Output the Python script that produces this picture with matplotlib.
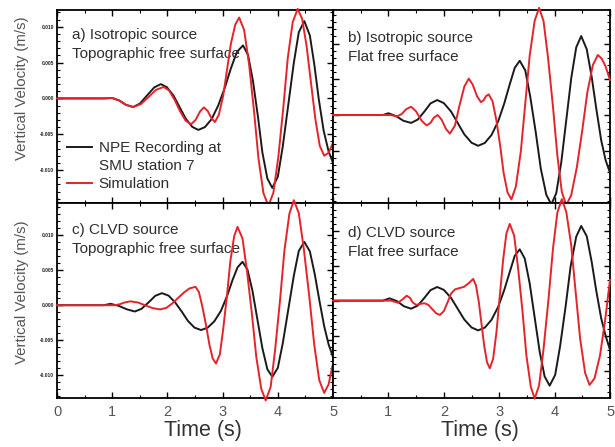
import numpy as np
import matplotlib
matplotlib.use("Agg")
import matplotlib.pyplot as plt
from matplotlib.ticker import MultipleLocator, FormatStrFormatter
from matplotlib.lines import Line2D

plt.rcParams['font.family'] = ['Liberation Sans', 'DejaVu Sans']

# ---- data: time [s], vertical velocity [mm/s] ----
# a) isotropic source, topographic free surface
t_rec_a = [0, 0.85, 1.0, 1.13, 1.25, 1.38, 1.5, 1.63, 1.76, 1.88, 1.99, 2.11, 2.22, 2.33, 2.45, 2.56,
           2.68, 2.8, 2.92, 3.04, 3.15, 3.26, 3.37, 3.46, 3.55, 3.64, 3.72, 3.81, 3.9, 4.0, 4.09,
           4.19, 4.29, 4.38, 4.48, 4.58, 4.66, 4.74, 4.83, 4.92, 5.0]
v_rec_a = [0, 0, 0.06, -0.3, -0.9, -1.2, -0.73, 0.4, 1.53, 2.0, 1.57, 0.4, -1.2, -2.8, -3.97, -4.4,
           -4.0, -2.9, -1.0, 1.5, 4.2, 6.5, 7.4, 6.07, 2.43, -2.55, -7.53, -11.17, -12.5, -10.94, -6.68,
           -0.85, 4.98, 9.24, 10.8, 8.8, 4.8, 0.0, -4.5, -7.4, -9.0]
t_sim_a = [0, 0.85, 1.0, 1.13, 1.25, 1.38, 1.52, 1.66, 1.79, 1.93, 2.03, 2.13, 2.23, 2.33, 2.43, 2.51,
           2.59, 2.66, 2.73, 2.8, 2.86, 2.93, 3.01, 3.08, 3.15, 3.23, 3.3, 3.39, 3.48, 3.57, 3.65,
           3.74, 3.83, 3.92, 4.01, 4.1, 4.18, 4.27, 4.36, 4.44, 4.52, 4.6, 4.68, 4.76, 4.84, 4.92, 5.0]
v_sim_a = [0, 0, 0.06, -0.3, -0.9, -1.2, -0.79, 0.2, 1.19, 1.6, 1.11, -0.19, -1.81, -3.11, -3.6, -3.01,
           -1.84, -1.25, -1.76, -2.79, -3.3, -2.32, 0.35, 4.0, 7.65, 10.32, 11.3, 9.54, 4.73, -1.85, -8.43,
           -13.24, -15.0, -13.16, -8.13, -1.25, 5.63, 10.66, 12.5, 11.13, 7.38, 2.25, -2.88, -6.63, -8.0, -7.6, -6.2]

# b) isotropic source, flat free surface
t_rec_b = [0, 0.9, 1.0, 1.14, 1.27, 1.41, 1.53, 1.65, 1.76, 1.88, 2.0, 2.13, 2.25, 2.37, 2.5, 2.62,
           2.74, 2.86, 2.98, 3.09, 3.19, 3.28, 3.37, 3.47, 3.56, 3.66, 3.75, 3.85, 3.94, 4.03, 4.12,
           4.21, 4.3, 4.39, 4.48, 4.58, 4.67, 4.75, 4.84, 4.92, 5.0]
v_rec_b = [0, 0, 0.25, -0.15, -0.8, -1.1, -0.63, 0.5, 1.63, 2.1, 1.67, 0.5, -1.1, -2.7, -3.87, -4.3,
           -3.9, -2.8, -0.9, 1.6, 4.3, 6.6, 7.6, 6.25, 2.58, -2.45, -7.48, -11.15, -12.5, -10.92, -6.61,
           -0.73, 5.16, 9.47, 11.05, 9.2, 5.3, 1.0, -3.5, -6.3, -8.1]
t_sim_b = [0, 1.05, 1.15, 1.24, 1.32, 1.41, 1.5, 1.6, 1.69, 1.76, 1.82, 1.89, 1.96, 2.04, 2.11, 2.2,
           2.28, 2.37, 2.45, 2.52, 2.6, 2.67, 2.72, 2.76, 2.81, 2.88, 2.95, 3.02, 3.08, 3.15, 3.22,
           3.3, 3.39, 3.47, 3.55, 3.64, 3.72, 3.8, 3.88, 3.97, 4.05, 4.13, 4.21, 4.3, 4.4, 4.5,
           4.59, 4.69, 4.78, 4.85, 4.92, 5.0]
v_sim_b = [0, 0, -0.2, 0.14, 0.82, 1.16, 0.51, -0.8, -1.45, -1.09, -0.36, 0, -0.65, -1.95, -2.6, -1.48,
           1.25, 3.98, 5.1, 4.28, 2.63, 1.8, 2.08, 2.63, 2.9, 1.92, -0.78, -4.45, -8.13, -10.82, -11.8,
           -10.0, -5.1, 1.6, 8.3, 13.2, 15.0, 13.15, 8.1, 1.2, -5.7, -10.75, -12.6, -11.19, -7.35, -2.1,
           3.15, 6.99, 8.4, 7.9, 6.8, 4.9]

# c) CLVD source, topographic free surface
t_rec_c = [0, 0.85, 0.97, 1.12, 1.27, 1.41, 1.53, 1.66, 1.78, 1.9, 2.02, 2.14, 2.26, 2.37, 2.49, 2.61,
           2.73, 2.85, 2.97, 3.08, 3.18, 3.27, 3.36, 3.45, 3.54, 3.63, 3.72, 3.81, 3.9, 4.0, 4.09,
           4.19, 4.29, 4.38, 4.48, 4.58, 4.67, 4.75, 4.84, 4.92, 5.0]
v_rec_c = [0, 0, 0.2, -0.1, -0.6, -0.9, -0.52, 0.41, 1.34, 1.72, 1.37, 0.4, -0.92, -2.23, -3.2, -3.55,
           -3.2, -2.3, -0.8, 1.3, 3.6, 5.4, 6.2, 5.09, 2.08, -2.03, -6.13, -9.14, -10.24, -8.95, -5.42,
           -0.6, 4.22, 7.75, 9.04, 7.7, 4.4, 0.8, -3.0, -5.6, -7.4]
t_sim_c = [0, 1.05, 1.13, 1.22, 1.33, 1.47, 1.6, 1.74, 1.87, 1.98, 2.08, 2.19, 2.3, 2.4, 2.51, 2.57,
           2.63, 2.7, 2.76, 2.82, 2.88, 2.95, 3.01, 3.08, 3.14, 3.21, 3.27, 3.36, 3.44, 3.53, 3.61,
           3.7, 3.78, 3.87, 3.95, 4.04, 4.12, 4.21, 4.29, 4.38, 4.47, 4.57, 4.66, 4.75, 4.84, 4.92, 5.0]
v_sim_c = [0, 0, 0.12, 0.38, 0.55, 0.38, -0.03, -0.43, -0.6, -0.38, 0.2, 1.01, 1.82, 2.4, 2.62, 1.89,
           -0.1, -2.86, -5.6, -7.6, -8.33, -7.02, -3.45, 1.43, 6.31, 9.88, 11.19, 9.53, 4.99, -1.2, -7.4,
           -11.94, -13.6, -11.68, -6.45, 0.7, 7.85, 13.08, 15.0, 13.15, 8.12, 1.24, -5.65, -10.69, -12.53,
           -11.3, -8.3]

# d) CLVD source, flat free surface
t_rec_d = [0, 0.9, 1.02, 1.15, 1.28, 1.41, 1.53, 1.65, 1.76, 1.88, 2.0, 2.13, 2.25, 2.37, 2.5, 2.62,
           2.74, 2.86, 2.98, 3.09, 3.19, 3.28, 3.37, 3.46, 3.55, 3.64, 3.73, 3.82, 3.91, 4.01, 4.1,
           4.2, 4.29, 4.39, 4.48, 4.58, 4.67, 4.75, 4.84, 4.92, 5.0]
v_rec_d = [0, 0, 0.33, -0.05, -0.8, -1.15, -0.7, 0.4, 1.5, 1.95, 1.54, 0.4, -1.15, -2.7, -3.83, -4.25,
           -3.85, -2.75, -0.9, 1.5, 4.1, 6.4, 7.33, 6.03, 2.46, -2.41, -7.27, -10.84, -12.14, -10.61, -6.44,
           -0.74, 4.97, 9.14, 10.67, 9.2, 5.5, 1.5, -2.5, -5.0, -7.04]
t_sim_d = [0, 1.05, 1.17, 1.25, 1.33, 1.39, 1.44, 1.5, 1.58, 1.65, 1.72, 1.79, 1.86, 1.93, 2.0, 2.07,
           2.13, 2.2, 2.28, 2.36, 2.45, 2.53, 2.58, 2.63, 2.68, 2.73, 2.78, 2.83, 2.89, 2.95, 3.01,
           3.07, 3.13, 3.19, 3.27, 3.34, 3.42, 3.49, 3.57, 3.64, 3.72, 3.8, 3.89, 3.97, 4.05, 4.13,
           4.21, 4.3, 4.38, 4.46, 4.55, 4.63, 4.72, 4.82, 4.91, 5.0]
v_sim_d = [0, 0, -0.3, 0.15, 0.71, 0.38, -0.27, -0.6, -0.45, -0.37, -0.6, -1.2, -1.8, -2.04, -1.5, -0.2,
           1.0, 1.6, 1.8, 1.95, 2.5, 3.1, 2.2, -0.1, -3.3, -6.5, -8.8, -9.67, -8.3, -4.5, 0.65,
           5.8, 9.6, 10.96, 9.3, 4.7, -1.5, -7.8, -12.3, -14.0, -12.1, -6.9, 0.25, 7.4, 12.6, 14.5,
           12.7, 7.9, 1.2, -5.4, -10.3, -12.04, -11.1, -7.8, -2.9, 2.96]

panel_text = ["a) Isotropic source\nTopographic free surface",
              "b) Isotropic source\nFlat free surface",
              "c) CLVD source\nTopographic free surface",
              "d) CLVD source\nFlat free surface"]
ylims = [(-14.6, 12.35), (-12.3, 14.7), (-13.3, 14.6), (-13.95, 13.95)]
text_y = [0.907, 0.891, 0.897, 0.882]

rec_col = '#1a1a1a'
sim_col = '#e3242b'
txt_col = '#2e2e2e'

fig = plt.figure(figsize=(6.15, 4.47), dpi=100)

# axes boxes in figure fractions: [left, bottom, width, height]
boxes = [[0.0927, 0.5459, 0.4488, 0.4318],
         [0.5415, 0.5459, 0.4504, 0.4318],
         [0.0927, 0.1089, 0.4488, 0.4370],
         [0.5415, 0.1089, 0.4504, 0.4370]]

data = [(t_rec_a, v_rec_a, t_sim_a, v_sim_a),
        (t_rec_b, v_rec_b, t_sim_b, v_sim_b),
        (t_rec_c, v_rec_c, t_sim_c, v_sim_c),
        (t_rec_d, v_rec_d, t_sim_d, v_sim_d)]

axes = []
for i in range(4):
    ax = fig.add_axes(boxes[i])
    tr, vr, ts, vs = data[i]
    ax.plot(tr, np.array(vr) / 1000.0, color=rec_col, lw=1.4, clip_on=False, zorder=3)
    ax.plot(ts, np.array(vs) / 1000.0, color=sim_col, lw=1.4, clip_on=False, zorder=4)
    ax.set_xlim(0, 5)
    ax.set_ylim(ylims[i][0] / 1000.0, ylims[i][1] / 1000.0)

    ax.xaxis.set_major_locator(MultipleLocator(1))
    ax.xaxis.set_minor_locator(MultipleLocator(0.5))
    ax.yaxis.set_major_locator(MultipleLocator(0.005))
    ax.yaxis.set_minor_locator(MultipleLocator(0.001))
    ax.tick_params(which='both', direction='in', top=True, right=True, color='black')
    ax.tick_params(which='major', length=4, width=1.0)
    ax.tick_params(which='minor', length=2.5, width=0.8)
    for s in ax.spines.values():
        s.set_linewidth(1.3)
        s.set_color('black')

    if i % 2 == 0:
        ax.yaxis.set_major_formatter(FormatStrFormatter('%.3f'))
        ax.tick_params(axis='y', which='major', labelsize=3.5, pad=2, labelcolor='#222222')
        for lab in ax.get_yticklabels():
            lab.set_fontweight('bold')
    else:
        ax.set_yticklabels([])

    if i < 2:
        ax.set_xticklabels([])
    else:
        ax.tick_params(axis='x', labelsize=10.5, labelcolor='#555555', pad=5)
        ax.set_xlabel("Time (s)", fontsize=15.5, color='#333333', labelpad=0)
        ax.xaxis.set_label_coords(0.53, -0.112)
        if i == 3:
            ax.set_xticks([1, 2, 3, 4, 5])

    ax.text(0.055 if i % 2 == 0 else 0.054, text_y[i], panel_text[i], transform=ax.transAxes,
            fontsize=11, color=txt_col, va='top', ha='left', linespacing=1.45)
    axes.append(ax)

axes[0].set_ylabel("Vertical Velocity (m/s)", fontsize=10.8, color='#555555', labelpad=0)
axes[0].yaxis.set_label_coords(-0.1, 0.596)
axes[2].set_ylabel("Vertical Velocity (m/s)", fontsize=10.8, color='#555555', labelpad=0)
axes[2].yaxis.set_label_coords(-0.1, 0.545)

# legend in panel a
handles = [Line2D([], [], color=rec_col, lw=1.4),
           Line2D([], [], color='none'),
           Line2D([], [], color=sim_col, lw=1.4)]
labels = ["NPE Recording at", "SMU station 7", "Simulation"]
axes[0].legend(handles, labels, loc='upper left', bbox_to_anchor=(0.035, 0.32),
               frameon=False, fontsize=11, handlelength=1.65, handletextpad=0.45,
               labelspacing=0.26, borderpad=0, borderaxespad=0, labelcolor=txt_col)

fig.savefig("out.png", dpi=100)
